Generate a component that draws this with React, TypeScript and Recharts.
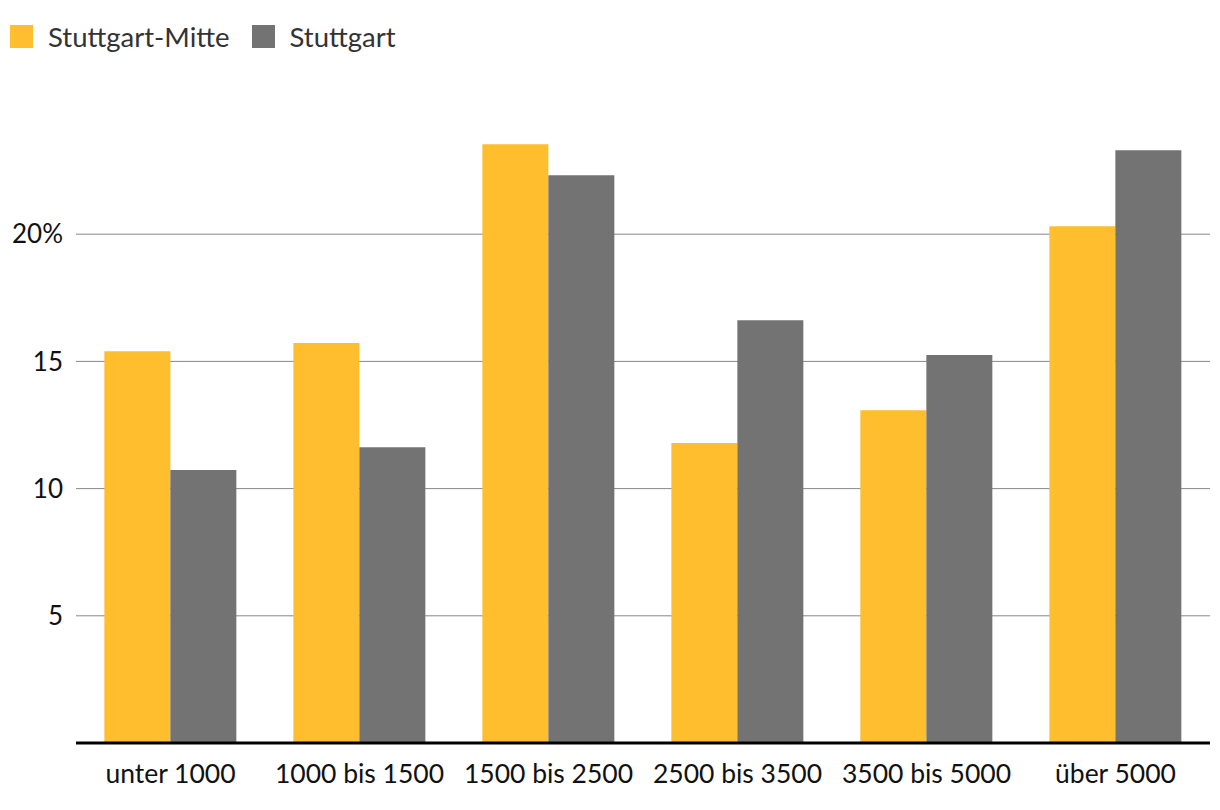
import { BarChart, Bar, XAxis, YAxis, CartesianGrid, Legend } from "recharts";

const categories = ["unter 1000", "1000 bis 1500", "1500 bis 2500", "2500 bis 3500", "3500 bis 5000", "über 5000"];
const mitteValues = [15.4, 15.72, 23.54, 11.79, 13.08, 20.31];
const stuttgartValues = [10.73, 11.63, 22.32, 16.62, 15.25, 23.3];
const yTicks = [5, 10, 15, 20];

const SERIES = [
  { key: "mitte", name: "Stuttgart-Mitte", color: "#FEBE2E" },
  { key: "stuttgart", name: "Stuttgart", color: "#737373" },
];

const data = categories.map((label, i) => ({
  label,
  mitte: mitteValues[i],
  stuttgart: stuttgartValues[i],
}));

const FONT = "Lato, 'Noto Sans', sans-serif";

function LegendBox() {
  return (
    <div style={{ display: "flex", alignItems: "center", height: 60, paddingLeft: 10, boxSizing: "border-box", fontFamily: FONT, fontSize: 27.5, color: "#333" }}>
      {SERIES.map((s) => (
        <div key={s.key} style={{ display: "flex", alignItems: "center", marginRight: 22 }}>
          <span style={{ width: 23, height: 23, background: s.color, display: "inline-block", marginRight: 15 }} />
          <span>{s.name}</span>
        </div>
      ))}
    </div>
  );
}

export default function App() {
  return (
    <div style={{ position: "absolute", left: 0, top: 0, width: 1220, height: 810, background: "#fff" }}>
      <BarChart
        width={1220}
        height={810}
        data={data}
        margin={{ top: 47, right: 10, left: 0, bottom: 0 }}
        barCategoryGap="15%"
        barGap={0}
      >
        <Legend verticalAlign="top" align="left" wrapperStyle={{ top: 6, left: 0 }} content={() => <LegendBox />} />
        <CartesianGrid vertical={false} stroke="#888" strokeWidth={1} syncWithTicks />
        <YAxis
          domain={[0, 25]}
          ticks={yTicks}
          width={76}
          axisLine={false}
          tickLine={false}
          tickSize={0}
          tickMargin={13}
          tickFormatter={(v) => (v === 20 ? "20%" : String(v))}
          tick={{ fill: "#111", fontSize: 26, fontFamily: FONT }}
        />
        <XAxis
          dataKey="label"
          height={67}
          tickLine={false}
          tickSize={0}
          tickMargin={21}
          axisLine={{ stroke: "#000", strokeWidth: 3 }}
          tick={{ fill: "#111", fontSize: 26.5, fontFamily: FONT }}
          interval={0}
        />
        {SERIES.map((s) => (
          <Bar key={s.key} dataKey={s.key} name={s.name} fill={s.color} isAnimationActive={false} />
        ))}
      </BarChart>
    </div>
  );
}
